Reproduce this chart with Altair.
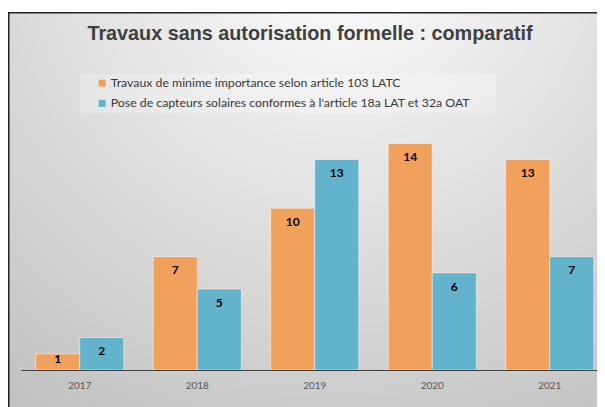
import altair as alt
import pandas as pd

years = ["2017", "2018", "2019", "2020", "2021"]
series = [
    "Travaux de minime importance selon article 103 LATC",
    "Pose de capteurs solaires conformes à l'article 18a LAT et 32a OAT",
]
minime = [1, 7, 10, 14, 13]
solaires = [2, 5, 13, 6, 7]
colors = ["#F2A15C", "#62B3CB"]
title_text = "Travaux sans autorisation formelle : comparatif"

rows = []
for i, y in enumerate(years):
    rows.append({"year": y, "series": series[0], "value": minime[i]})
    rows.append({"year": y, "series": series[1], "value": solaires[i]})
df = pd.DataFrame(rows)
one = pd.DataFrame({"a": [0]})

W = 576
H = 259
X_RANGE = [0, 587.5]

x_enc = alt.X(
    "year:N",
    sort=years,
    scale=alt.Scale(paddingInner=0.25, paddingOuter=0.125, range=X_RANGE),
    axis=alt.Axis(
        title=None, labelAngle=0, ticks=False, tickSize=0, zindex=2,
        domainColor="#404040", domainWidth=1.2,
        labelFont="Lato", labelFontSize=10, labelColor="#595959",
        labelBaseline="middle", labelPadding=15,
    ),
)
xo_enc = alt.XOffset("series:N", sort=series,
                     scale=alt.Scale(domain=series, paddingInner=0, paddingOuter=0))
y_scale = alt.Scale(domain=[0, 16])

frame = alt.Chart(one).mark_rect(
    fill={
        "gradient": "radial",
        "x1": 0.55, "y1": 0.04, "r1": 0,
        "x2": 0.55, "y2": 0.04, "r2": 0.95,
        "stops": [
            {"offset": 0, "color": "#ffffff"},
            {"offset": 1, "color": "#c0c0c0"},
        ],
    },
    stroke="#222222",
    strokeWidth=1.5,
).encode(
    x=alt.value(-12.25), x2=alt.value(592),
    y=alt.value(-98.25), y2=alt.value(309),
)

legend_box = alt.Chart(one).mark_rect(fill="white", opacity=0.25).encode(
    x=alt.value(59), x2=alt.value(475),
    y=alt.value(-37), y2=alt.value(2),
)

bars = alt.Chart(df).mark_bar(
    stroke="white", strokeOpacity=0.5, strokeWidth=1
).encode(
    x=x_enc,
    xOffset=xo_enc,
    y=alt.Y("value:Q", scale=y_scale, axis=None),
    color=alt.Color(
        "series:N",
        sort=series,
        scale=alt.Scale(domain=series, range=colors),
        legend=alt.Legend(
            title=None, orient="none", legendX=75, legendY=-34,
            direction="vertical", symbolType="square", symbolSize=49,
            symbolStrokeWidth=0, labelFont="Lato", labelFontSize=12.3,
            labelColor="#383838", labelLimit=600, labelOffset=2.5,
            rowPadding=7.2, padding=0,
        ),
    ),
)

labels = alt.Chart(df).transform_calculate(
    ly="max(datum.value - 0.85, 0.7)"
).mark_text(
    font="Lato", fontWeight="bold", fontSize=12, color="#000000", baseline="middle"
).encode(
    x=alt.X("year:N", sort=years),
    xOffset=alt.XOffset("series:N", sort=series),
    y=alt.Y("ly:Q", scale=y_scale, axis=None),
    text="value:Q",
)

title = alt.Chart(one).mark_text(
    text=title_text, font="Liberation Sans", fontWeight="bold", fontSize=19.8,
    color="#404040", align="center", baseline="alphabetic",
).encode(x=alt.value(289), y=alt.value(-71.5))

chart = alt.layer(frame, legend_box, bars, labels, title).properties(
    width=W, height=H,
    autosize=alt.AutoSizeParams(type="none"),
    padding={"left": 13, "top": 103, "right": 0, "bottom": 37},
    background="white",
).configure_view(strokeWidth=0)

chart.save("out.html", embed_options={"renderer": "svg", "actions": False})
